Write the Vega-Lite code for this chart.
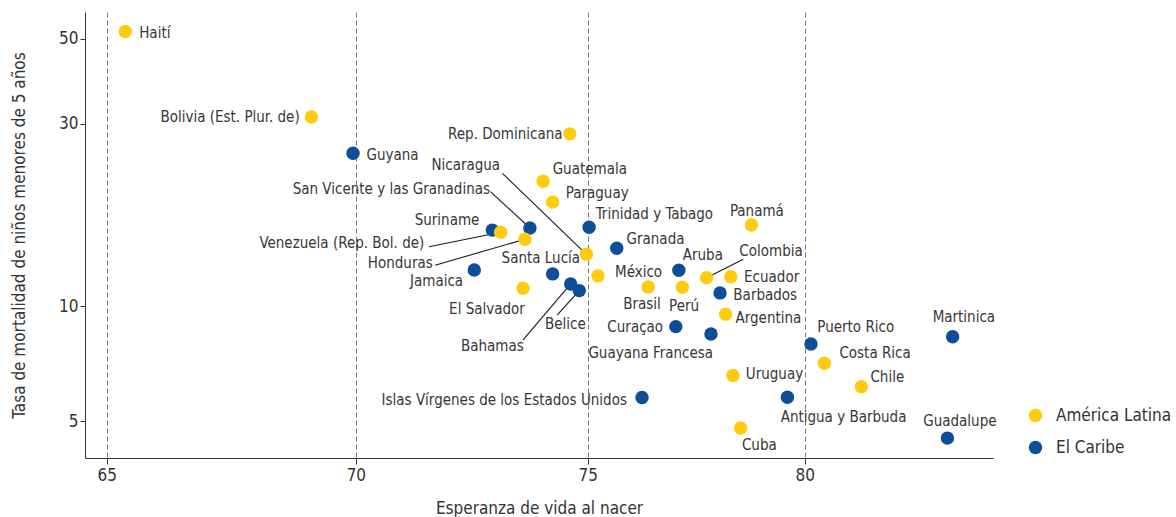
{
  "$schema": "https://vega.github.io/schema/vega-lite/v6.json",
  "width": 908,
  "height": 446,
  "autosize": {"type": "none"},
  "padding": {"left": 85, "top": 12, "right": 183, "bottom": 59},
  "background": "white",
  "config": {
    "view": {"stroke": null},
    "font": "Liberation Sans Narrow, DejaVu Sans Condensed, Roboto, sans-serif",
    "text": {"font": "Liberation Sans Narrow, DejaVu Sans Condensed, Roboto, sans-serif", "fontSize": 15, "fill": "#363636"}
  },
  "datasets": {
    "puntos": [
      {"pais": "Haití", "region": "América Latina", "esperanza": 65.36, "mortalidad": 52.2},
      {"pais": "Bolivia (Est. Plur. de)", "region": "América Latina", "esperanza": 69.08, "mortalidad": 31.2},
      {"pais": "Guyana", "region": "El Caribe", "esperanza": 69.94, "mortalidad": 25.1},
      {"pais": "Rep. Dominicana", "region": "América Latina", "esperanza": 74.6, "mortalidad": 28.2},
      {"pais": "Guatemala", "region": "América Latina", "esperanza": 74.01, "mortalidad": 21.2},
      {"pais": "Paraguay", "region": "América Latina", "esperanza": 74.22, "mortalidad": 18.7},
      {"pais": "Suriname", "region": "El Caribe", "esperanza": 72.9, "mortalidad": 15.8},
      {"pais": "Venezuela (Rep. Bol. de)", "region": "América Latina", "esperanza": 73.08, "mortalidad": 15.6},
      {"pais": "San Vicente y las Granadinas", "region": "El Caribe", "esperanza": 73.72, "mortalidad": 16.0},
      {"pais": "Honduras", "region": "América Latina", "esperanza": 73.61, "mortalidad": 14.96},
      {"pais": "Jamaica", "region": "El Caribe", "esperanza": 72.51, "mortalidad": 12.43},
      {"pais": "El Salvador", "region": "América Latina", "esperanza": 73.57, "mortalidad": 11.14},
      {"pais": "Santa Lucía", "region": "El Caribe", "esperanza": 74.22, "mortalidad": 12.14},
      {"pais": "Bahamas", "region": "El Caribe", "esperanza": 74.62, "mortalidad": 11.43},
      {"pais": "Belice", "region": "El Caribe", "esperanza": 74.81, "mortalidad": 10.98},
      {"pais": "Nicaragua", "region": "América Latina", "esperanza": 74.97, "mortalidad": 13.66},
      {"pais": "Trinidad y Tabago", "region": "El Caribe", "esperanza": 75.03, "mortalidad": 16.08},
      {"pais": "Granada", "region": "El Caribe", "esperanza": 75.65, "mortalidad": 14.17},
      {"pais": "México", "region": "América Latina", "esperanza": 75.23, "mortalidad": 12.0},
      {"pais": "Brasil", "region": "América Latina", "esperanza": 76.36, "mortalidad": 11.22},
      {"pais": "Perú", "region": "América Latina", "esperanza": 77.14, "mortalidad": 11.2},
      {"pais": "Aruba", "region": "El Caribe", "esperanza": 77.06, "mortalidad": 12.41},
      {"pais": "Colombia", "region": "América Latina", "esperanza": 77.7, "mortalidad": 11.87},
      {"pais": "Ecuador", "region": "América Latina", "esperanza": 78.26, "mortalidad": 11.94},
      {"pais": "Barbados", "region": "El Caribe", "esperanza": 78.01, "mortalidad": 10.83},
      {"pais": "Panamá", "region": "América Latina", "esperanza": 78.74, "mortalidad": 16.3},
      {"pais": "Argentina", "region": "América Latina", "esperanza": 78.14, "mortalidad": 9.53},
      {"pais": "Curaçao", "region": "El Caribe", "esperanza": 76.99, "mortalidad": 8.84},
      {"pais": "Guayana Francesa", "region": "El Caribe", "esperanza": 77.8, "mortalidad": 8.46},
      {"pais": "Puerto Rico", "region": "El Caribe", "esperanza": 80.15, "mortalidad": 7.96},
      {"pais": "Costa Rica", "region": "América Latina", "esperanza": 80.47, "mortalidad": 7.09},
      {"pais": "Martinica", "region": "El Caribe", "esperanza": 83.6, "mortalidad": 8.32},
      {"pais": "Uruguay", "region": "América Latina", "esperanza": 78.31, "mortalidad": 6.59},
      {"pais": "Chile", "region": "América Latina", "esperanza": 81.36, "mortalidad": 6.16},
      {"pais": "Islas Vírgenes de los Estados Unidos", "region": "El Caribe", "esperanza": 76.22, "mortalidad": 5.77},
      {"pais": "Antigua y Barbuda", "region": "El Caribe", "esperanza": 79.59, "mortalidad": 5.78},
      {"pais": "Cuba", "region": "América Latina", "esperanza": 78.49, "mortalidad": 4.8},
      {"pais": "Guadalupe", "region": "El Caribe", "esperanza": 83.47, "mortalidad": 4.52}
    ],
    "etiquetas": [
      {"pais": "Haití", "lx": 65.63, "ly": 51.7},
      {"pais": "Guyana", "lx": 70.22, "ly": 24.84},
      {"pais": "Guatemala", "lx": 74.22, "ly": 22.79},
      {"pais": "Paraguay", "lx": 74.51, "ly": 19.72},
      {"pais": "Trinidad y Tabago", "lx": 75.18, "ly": 17.42},
      {"pais": "Granada", "lx": 75.87, "ly": 14.96},
      {"pais": "México", "lx": 75.61, "ly": 12.31},
      {"pais": "Aruba", "lx": 77.15, "ly": 13.58},
      {"pais": "Ecuador", "lx": 78.57, "ly": 11.94},
      {"pais": "Barbados", "lx": 78.32, "ly": 10.7},
      {"pais": "Argentina", "lx": 78.37, "ly": 9.33},
      {"pais": "Puerto Rico", "lx": 80.3, "ly": 8.84},
      {"pais": "Costa Rica", "lx": 80.83, "ly": 7.53},
      {"pais": "Uruguay", "lx": 78.61, "ly": 6.64},
      {"pais": "Chile", "lx": 81.58, "ly": 6.54},
      {"pais": "Antigua y Barbuda", "lx": 79.43, "ly": 5.14},
      {"pais": "Cuba", "lx": 78.52, "ly": 4.34},
      {"pais": "Colombia", "lx": 78.46, "ly": 13.94},
      {"pais": "Bolivia (Est. Plur. de)", "lx": 68.84, "ly": 31.2},
      {"pais": "Rep. Dominicana", "lx": 74.44, "ly": 28.2},
      {"pais": "Suriname", "lx": 72.62, "ly": 16.8},
      {"pais": "Jamaica", "lx": 72.27, "ly": 11.64},
      {"pais": "El Salvador", "lx": 73.61, "ly": 9.83},
      {"pais": "Curaçao", "lx": 76.7, "ly": 8.84},
      {"pais": "Guayana Francesa", "lx": 77.85, "ly": 7.53},
      {"pais": "Islas Vírgenes de los Estados Unidos", "lx": 75.88, "ly": 5.69},
      {"pais": "Nicaragua", "lx": 73.07, "ly": 23.39},
      {"pais": "San Vicente y las Granadinas", "lx": 72.85, "ly": 20.21},
      {"pais": "Venezuela (Rep. Bol. de)", "lx": 71.44, "ly": 14.6},
      {"pais": "Honduras", "lx": 71.62, "ly": 12.95},
      {"pais": "Santa Lucía", "lx": 73.96, "ly": 13.34},
      {"pais": "Brasil", "lx": 76.22, "ly": 10.12},
      {"pais": "Perú", "lx": 77.18, "ly": 10.01},
      {"pais": "Panamá", "lx": 78.87, "ly": 17.77},
      {"pais": "Martinica", "lx": 83.88, "ly": 9.39},
      {"pais": "Guadalupe", "lx": 83.78, "ly": 5.02},
      {"pais": "Bahamas", "lx": 72.9, "ly": 7.87},
      {"pais": "Belice", "lx": 74.5, "ly": 8.97}
    ],
    "guias": [
      {"pais": "Nicaragua", "x1": 73.12, "y1": 22.24},
      {"pais": "San Vicente y las Granadinas", "x1": 72.86, "y1": 19.92},
      {"pais": "Venezuela (Rep. Bol. de)", "x1": 71.54, "y1": 14.3},
      {"pais": "Honduras", "x1": 71.67, "y1": 12.79},
      {"pais": "Bahamas", "x1": 73.57, "y1": 8.16},
      {"pais": "Belice", "x1": 74.32, "y1": 9.48},
      {"pais": "Colombia", "x1": 78.55, "y1": 13.26}
    ]
  },
  "layer": [
    {
      "data": {"name": "guias"},
      "transform": [
        {"lookup": "pais", "from": {"data": {"name": "puntos"}, "key": "pais", "fields": ["esperanza", "mortalidad"]}}
      ],
      "mark": {"type": "rule", "stroke": "#1a1a1a", "strokeWidth": 1.1},
      "encoding": {
        "x": {"field": "x1", "type": "quantitative"},
        "y": {"field": "y1", "type": "quantitative"},
        "x2": {"field": "esperanza"},
        "y2": {"field": "mortalidad"}
      }
    },
    {
      "data": {"name": "puntos"},
      "mark": {"type": "circle", "size": 180, "opacity": 1},
      "encoding": {
        "x": {
          "field": "esperanza", "type": "quantitative",
          "scale": {"type": "log", "domain": [64.58, 84.61], "nice": false, "zero": false},
          "axis": {
            "values": [65, 70, 75, 80], "grid": true, "gridDash": [5, 3], "gridColor": "#7a7a7a", "gridWidth": 1,
            "domainColor": "#333333", "tickColor": "#333333", "tickSize": 6, "labelFontSize": 17, "labelColor": "#333333",
            "labelPadding": 3, "labelFont": "Liberation Sans Narrow, DejaVu Sans Condensed, Roboto, sans-serif",
            "title": "Esperanza de vida al nacer", "titleFontSize": 17, "titleFontWeight": "normal", "titleColor": "#333333",
            "titleFont": "Liberation Sans Narrow, DejaVu Sans Condensed, Roboto, sans-serif", "titlePadding": 17
          }
        },
        "y": {
          "field": "mortalidad", "type": "quantitative",
          "scale": {"type": "log", "domain": [4.01, 58.7], "nice": false, "zero": false},
          "axis": {
            "values": [5, 10, 30, 50], "grid": false,
            "domainColor": "#333333", "tickColor": "#333333", "tickSize": 5, "labelFontSize": 17, "labelColor": "#333333",
            "labelPadding": 2, "labelFont": "Liberation Sans Narrow, DejaVu Sans Condensed, Roboto, sans-serif",
            "title": "Tasa de mortalidad de niños menores de 5 años", "titleFontSize": 17, "titleFontWeight": "normal", "titleColor": "#333333",
            "titleFont": "Liberation Sans Narrow, DejaVu Sans Condensed, Roboto, sans-serif", "titlePadding": 30
          }
        },
        "color": {
          "field": "region", "type": "nominal",
          "scale": {"domain": ["América Latina", "El Caribe"], "range": ["#FFCB0C", "#0E4D97"]},
          "legend": {
            "title": null, "orient": "none", "legendX": 942, "legendY": 395, "padding": 0,
            "symbolType": "circle", "symbolSize": 180, "symbolStrokeWidth": 0, "symbolOpacity": 1,
            "labelFontSize": 17, "labelColor": "#333333", "labelOffset": 12, "rowPadding": 14,
            "labelFont": "Liberation Sans Narrow, DejaVu Sans Condensed, Roboto, sans-serif"
          }
        }
      }
    },
    {
      "data": {"name": "etiquetas"},
      "transform": [{"filter": {"field": "pais", "oneOf": ["Haití", "Guyana", "Guatemala", "Paraguay", "Trinidad y Tabago", "Granada", "México", "Aruba", "Ecuador", "Barbados", "Argentina", "Puerto Rico", "Costa Rica", "Uruguay", "Chile", "Antigua y Barbuda", "Cuba", "Colombia"]}}],
      "mark": {"type": "text", "align": "left", "baseline": "middle"},
      "encoding": {
        "x": {"field": "lx", "type": "quantitative"},
        "y": {"field": "ly", "type": "quantitative"},
        "text": {"field": "pais"}
      }
    },
    {
      "data": {"name": "etiquetas"},
      "transform": [{"filter": {"field": "pais", "oneOf": ["Bolivia (Est. Plur. de)", "Rep. Dominicana", "Suriname", "Jamaica", "El Salvador", "Curaçao", "Guayana Francesa", "Islas Vírgenes de los Estados Unidos", "Nicaragua", "San Vicente y las Granadinas", "Venezuela (Rep. Bol. de)", "Honduras"]}}],
      "mark": {"type": "text", "align": "right", "baseline": "middle"},
      "encoding": {
        "x": {"field": "lx", "type": "quantitative"},
        "y": {"field": "ly", "type": "quantitative"},
        "text": {"field": "pais"}
      }
    },
    {
      "data": {"name": "etiquetas"},
      "transform": [{"filter": {"field": "pais", "oneOf": ["Santa Lucía", "Brasil", "Perú", "Panamá", "Martinica", "Guadalupe", "Bahamas", "Belice"]}}],
      "mark": {"type": "text", "align": "center", "baseline": "middle"},
      "encoding": {
        "x": {"field": "lx", "type": "quantitative"},
        "y": {"field": "ly", "type": "quantitative"},
        "text": {"field": "pais"}
      }
    }
  ]
}
